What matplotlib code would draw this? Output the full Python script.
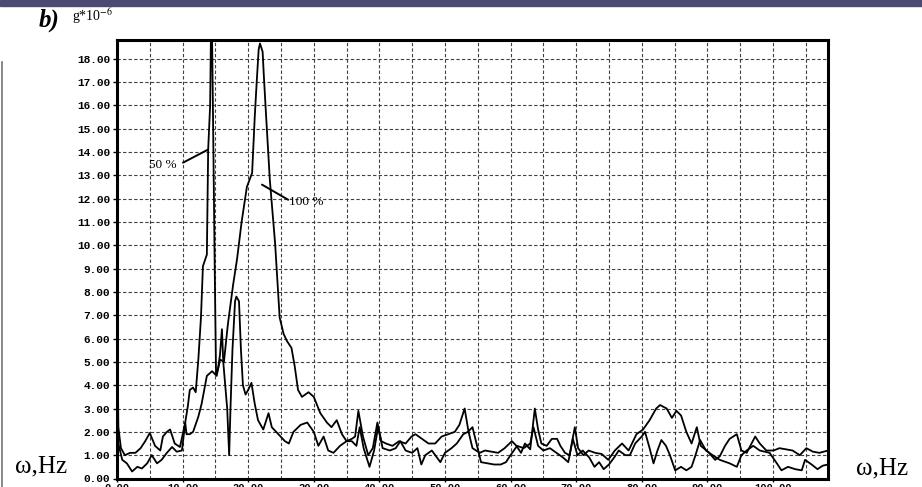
import matplotlib
matplotlib.use('Agg')
from matplotlib import pyplot as plt
from matplotlib.patches import Rectangle
from matplotlib.lines import Line2D

# 50 % curve (narrow peak near 14 Hz)
freq_50 = [0.0, 0.2, 0.6, 1.2, 2.0, 2.8, 3.6, 4.3, 5.0, 5.8, 6.6, 7.0, 7.6, 8.1, 8.8, 9.6,
           10.4, 10.8, 11.1, 11.6, 12.0, 12.4, 12.8, 13.1, 13.7, 13.9, 14.2, 14.4, 14.6, 14.9,
           15.1, 15.4, 15.7, 16.0, 16.2, 16.5, 16.8, 17.1, 17.3, 17.6, 18.0, 18.2, 18.6, 18.9,
           19.2, 19.6, 20.0, 20.5, 21.0, 21.5, 22.3, 23.1, 23.6, 24.6, 25.6, 26.2, 26.9, 28.0,
           29.0, 30.0, 30.7, 31.5, 32.2, 33.0, 34.0, 35.0, 35.8, 36.5, 37.0, 37.6, 38.5, 39.2,
           39.8, 40.5, 41.6, 42.5, 43.2, 44.0, 45.0, 45.8, 46.4, 47.0, 48.0, 49.3, 50.0, 51.0,
           51.8, 52.8, 53.5, 54.2, 54.8, 55.5, 56.5, 57.5, 58.5, 59.3, 60.0, 61.0, 62.0, 63.0,
           63.5, 64.2, 65.0, 66.0, 67.0, 68.0, 68.8, 69.5, 70.2, 71.0, 72.0, 72.8, 73.5, 74.2,
           75.0, 75.8, 76.5, 77.5, 78.2, 79.0, 80.0, 80.5, 81.2, 81.8, 82.4, 83.0, 83.7, 84.3,
           85.1, 86.0, 86.8, 87.6, 88.2, 88.9, 89.8, 90.8, 91.9, 93.4, 94.5, 95.2, 96.0, 97.0,
           98.0, 99.5, 100.6, 101.3, 102.3, 103.4, 104.4, 104.9, 105.9, 106.8, 107.6, 108.4]
amp_50 = [8.8, 2.2, 1.3, 1.0, 1.1, 1.1, 1.3, 1.6, 1.95, 1.4, 1.2, 1.8, 2.0, 2.1, 1.5, 1.35,
          2.4, 3.1, 3.8, 3.9, 3.7, 5.1, 6.9, 9.1, 9.6, 14.1, 16.0, 21.0, 16.5, 9.0,
          4.5, 4.7, 5.3, 6.4, 5.0, 4.0, 3.0, 1.0, 3.0, 5.5, 7.6, 7.8, 7.6, 5.5,
          4.0, 3.6, 3.8, 4.1, 3.2, 2.5, 2.1, 2.8, 2.2, 1.9, 1.6, 1.5, 2.0, 2.3,
          2.4, 2.0, 1.4, 1.8, 1.2, 1.1, 1.4, 1.6, 1.6, 1.4, 2.2, 1.3, 0.5, 1.2,
          2.2, 1.3, 1.2, 1.3, 1.6, 1.2, 1.1, 1.3, 0.6, 1.0, 1.2, 0.7, 1.1, 1.3,
          1.5, 1.9, 2.0, 2.2, 1.5, 0.7, 0.65, 0.6, 0.6, 0.7, 1.0, 1.4, 1.3, 1.5,
          2.2, 1.4, 1.2, 1.3, 1.1, 0.9, 0.7, 1.7, 1.0, 1.2, 0.9, 0.5, 0.7, 0.4,
          0.6, 0.9, 1.2, 1.0, 1.0, 1.5, 1.8, 2.0, 1.3, 0.65, 1.2, 1.65, 1.4, 1.0,
          0.35, 0.5, 0.35, 0.5, 1.0, 1.65, 1.2, 1.0, 0.8, 0.65, 0.5, 1.0, 1.2, 1.4,
          1.2, 1.1, 0.65, 0.35, 0.5, 0.4, 0.35, 0.8, 0.6, 0.4, 0.55, 0.6]

# 100 % curve (broad peak near 22 Hz)
freq_100 = [0.0, 0.2, 0.8, 1.5, 2.3, 3.1, 3.8, 4.6, 5.3, 6.1, 6.8, 7.6, 8.4, 9.1, 9.9, 10.4,
            10.6, 11.1, 11.6, 12.4, 12.9, 13.7, 14.5, 15.2, 15.7, 16.3, 16.9, 17.7, 18.3, 19.0,
            19.8, 20.6, 21.0, 21.3, 21.6, 21.8, 22.2, 22.4, 22.7, 23.3, 24.1, 24.8, 25.4, 25.9,
            26.6, 27.1, 27.6, 28.2, 29.2, 30.0, 31.0, 32.0, 32.7, 33.5, 34.3, 35.0, 35.8, 36.3,
            36.8, 37.5, 38.3, 39.0, 39.7, 40.3, 41.0, 42.0, 43.0, 44.0, 44.9, 45.5, 46.5, 47.5,
            48.5, 49.5, 50.5, 51.5, 52.2, 53.0, 53.6, 54.2, 55.3, 56.1, 57.1, 58.1, 59.1, 60.2,
            60.9, 61.6, 62.2, 63.0, 63.7, 64.2, 64.7, 65.5, 66.3, 67.1, 67.6, 68.3, 69.0, 69.8,
            70.3, 71.1, 71.9, 72.9, 73.9, 74.9, 75.9, 77.0, 78.0, 79.2, 80.2, 81.2, 82.2, 82.8,
            83.8, 84.6, 85.3, 86.0, 86.8, 87.6, 88.4, 89.0, 90.1, 91.2, 91.9, 92.7, 93.4, 94.5,
            95.2, 96.0, 97.3, 98.0, 99.0, 100.1, 101.0, 102.0, 103.0, 104.1, 105.1, 106.1, 107.1, 108.4]
amp_100 = [8.0, 1.5, 0.8, 0.65, 0.3, 0.5, 0.43, 0.65, 1.0, 0.65, 0.8, 1.1, 1.35, 1.15, 1.2, 2.4,
           1.9, 1.9, 2.0, 2.65, 3.2, 4.4, 4.6, 4.4, 5.1, 5.0, 6.6, 8.3, 9.4, 11.0,
           12.5, 13.1, 15.5, 17.0, 18.4, 18.65, 18.3, 17.2, 15.7, 12.8, 10.1, 6.9, 6.2, 5.9,
           5.6, 4.8, 3.8, 3.5, 3.7, 3.5, 2.8, 2.4, 2.2, 2.5, 1.9, 1.6, 1.7, 1.8,
           2.9, 1.8, 1.0, 1.3, 2.4, 1.6, 1.5, 1.4, 1.6, 1.5, 1.8, 1.9, 1.7, 1.5,
           1.5, 1.8, 1.9, 2.0, 2.3, 3.0, 2.0, 1.3, 1.1, 1.2, 1.15, 1.1, 1.3, 1.6,
           1.4, 1.1, 1.5, 1.25, 3.0, 2.1, 1.5, 1.4, 1.7, 1.7, 1.4, 1.1, 1.0, 2.2,
           1.3, 1.0, 1.2, 1.1, 1.05, 0.8, 1.2, 1.5, 1.2, 1.9, 2.1, 2.5, 3.0, 3.15,
           3.0, 2.6, 2.9, 2.7, 2.0, 1.5, 2.2, 1.4, 1.15, 0.8, 0.95, 1.4, 1.7, 1.9,
           1.2, 1.1, 1.8, 1.5, 1.2, 1.2, 1.3, 1.25, 1.2, 1.0, 1.3, 1.15, 1.1, 1.2]

x_ticks = [0, 10, 20, 30, 40, 50, 60, 70, 80, 90, 100]
x_labels = ['0.00', '10.00', '20.00', '30.00', '40.00', '50.00', '60.00', '70.00', '80.00', '90.00', '100.00']
y_ticks = list(range(0, 19))
y_labels = ['%.2f' % v for v in y_ticks]

fig = plt.figure(figsize=(9.22, 4.87), dpi=100)
ax = fig.add_axes([117 / 922, 1 - 478.5 / 487, (828 - 117) / 922, (478.5 - 40) / 487])

# grid
for gx in range(5, 108, 5):
    ax.axvline(gx, color='0.25', lw=0.8, ls=(0, (3, 2)), zorder=1)
for gy in range(1, 19):
    ax.axhline(gy, color='0.25', lw=0.8, ls=(0, (3, 2)), zorder=1)

ax.plot(freq_50, amp_50, color='black', lw=1.3, zorder=3)
ax.plot(freq_100, amp_100, color='black', lw=1.3, zorder=3)

ax.set_xlim(0, 108.4)
ax.set_ylim(0, 18.8)
ax.set_xticks(x_ticks)
ax.set_xticklabels(x_labels, fontsize=7.5, fontfamily='Liberation Mono', fontweight='bold')
ax.set_yticks(y_ticks)
ax.set_yticklabels(y_labels, fontsize=8, fontfamily='Liberation Mono', fontweight='bold')
ax.tick_params(axis='y', length=3, width=1, pad=2)
ax.tick_params(axis='x', length=2, width=1, pad=1)
for s in ax.spines.values():
    s.set_linewidth(2.2)

# labels on curves with leader lines
ax.annotate('', xy=(13.87, 14.1), xytext=(10.06, 13.54),
            arrowprops=dict(arrowstyle='-', color='black', lw=1.4, shrinkA=0, shrinkB=0))
ax.text(7.0, 13.45, '50 %', fontsize=9.5, fontfamily='Liberation Serif', ha='center', va='center')
ax.annotate('', xy=(22.1, 12.6), xytext=(26.1, 11.95),
            arrowprops=dict(arrowstyle='-', color='black', lw=1.4, shrinkA=0, shrinkB=0))
ax.text(26.2, 11.87, '100 %', fontsize=9.5, fontfamily='Liberation Serif', ha='left', va='center')

# slide decorations
fig.patches.append(Rectangle((0, 1 - 6 / 487), 1, 6 / 487, transform=fig.transFigure,
                             color='#4a4a72', zorder=0))
fig.lines.append(Line2D([1.5 / 922, 1.5 / 922], [0, 1 - 62 / 487], transform=fig.transFigure,
                        color='0.45', lw=1.2))

plt.rcParams['mathtext.fontset'] = 'stix'
fig.text(49 / 922, 1 - 20 / 487, 'b)', fontsize=18, fontfamily='Liberation Serif',
         fontweight='bold', fontstyle='italic', ha='center', va='center')
fig.text(72 / 922, 1 - 16 / 487, r'g*10$^{-6}$', fontsize=10, fontfamily='Liberation Serif',
         ha='left', va='center')
fig.text(41 / 922, 1 - 466 / 487, 'ω,Hz', fontsize=18, fontfamily='Liberation Serif',
         ha='center', va='center')
fig.text(882 / 922, 1 - 468 / 487, 'ω,Hz', fontsize=18, fontfamily='Liberation Serif',
         ha='center', va='center')

fig.savefig('out.png', dpi=100)
